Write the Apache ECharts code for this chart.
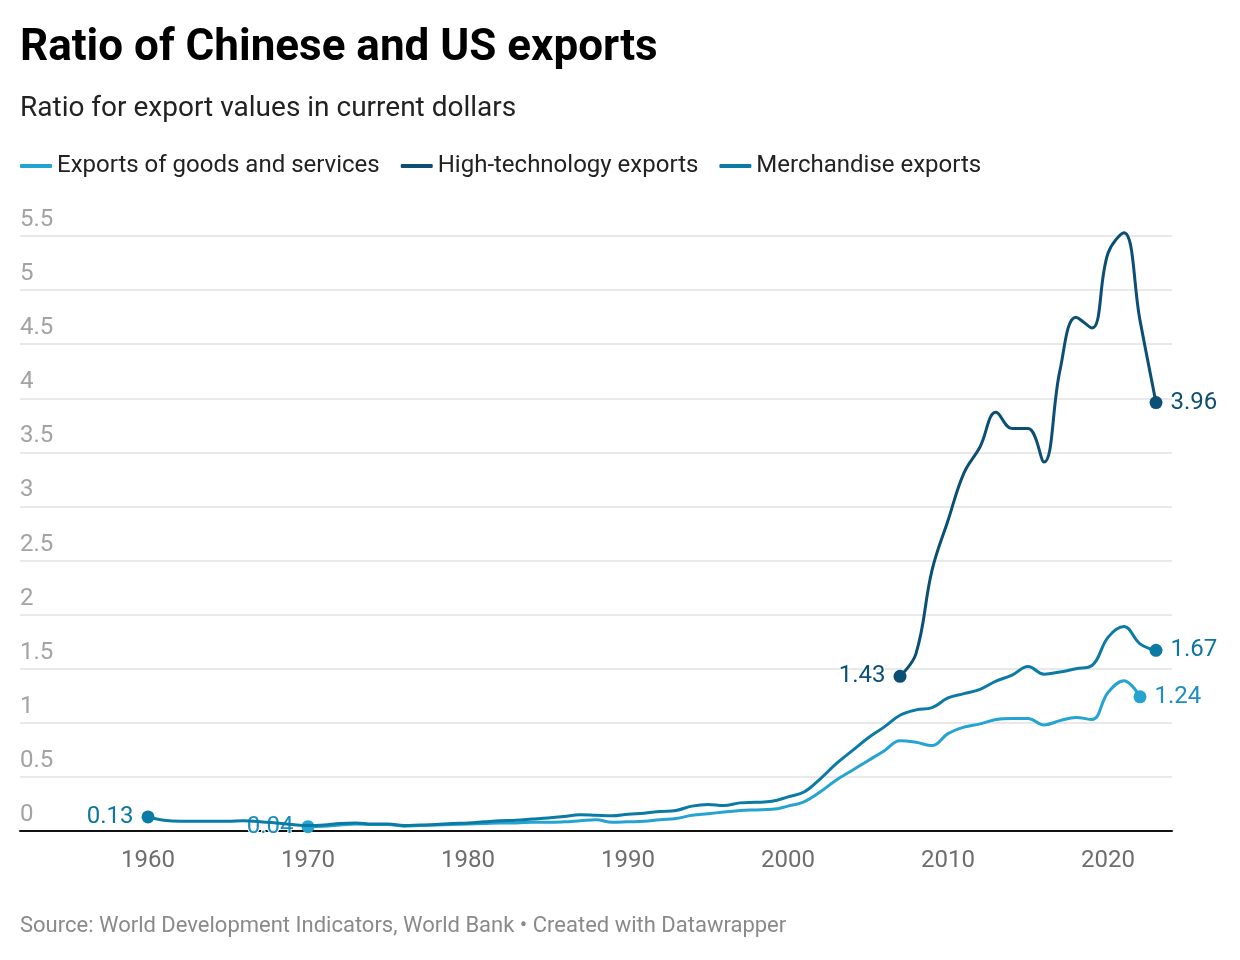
<!DOCTYPE html>
<html>
<head>
<meta charset="utf-8">
<title>Ratio of Chinese and US exports</title>
<script src="https://cdn.jsdelivr.net/npm/echarts@6/dist/echarts.min.js"></script>
<style>
  html, body { margin: 0; padding: 0; background: #fff; }
  #chart { width: 1240px; height: 960px; }
</style>
</head>
<body>
<div id="chart"></div>
<script>
// ratio China / US
const merchStart = 1960;
const merchandise = [
  0.13, 0.10, 0.09, 0.09, 0.09, 0.09, 0.095, 0.085, 0.075, 0.06,
  0.05, 0.055, 0.07, 0.075, 0.065, 0.065, 0.05, 0.055, 0.06, 0.07,
  0.075, 0.085, 0.095, 0.10, 0.11, 0.12, 0.135, 0.15, 0.145, 0.14,
  0.155, 0.165, 0.18, 0.19, 0.23, 0.245, 0.235, 0.26, 0.265, 0.275,
  0.315, 0.36, 0.48, 0.62, 0.74, 0.86, 0.96, 1.07, 1.12, 1.14,
  1.23, 1.27, 1.31, 1.385, 1.44, 1.52, 1.45, 1.47, 1.50, 1.53,
  1.79, 1.89, 1.73, 1.67
];

const goodsStart = 1970;
const goodsServices = [
  0.04, 0.045, 0.055, 0.065, 0.06, 0.06, 0.045, 0.05, 0.055, 0.06,
  0.065, 0.07, 0.075, 0.075, 0.08, 0.08, 0.085, 0.095, 0.105, 0.08,
  0.085, 0.09, 0.105, 0.115, 0.145, 0.16, 0.175, 0.19, 0.195, 0.20,
  0.23, 0.27, 0.36, 0.47, 0.56, 0.65, 0.74, 0.835, 0.82, 0.79,
  0.90, 0.96, 0.99, 1.03, 1.04, 1.04, 0.98, 1.02, 1.05, 1.03,
  1.28, 1.39, 1.24
];

const techStart = 2007;
const highTech = [
  1.43, 1.64, 2.41, 2.87, 3.31, 3.55, 3.87, 3.72, 3.72, 3.41,
  4.26, 4.75, 4.65, 5.34, 5.53, 4.72, 3.96
];

const xTicks = [1960, 1970, 1980, 1990, 2000, 2010, 2020];

const COLORS = {
  goods: '#25a3d1',
  merch: '#0b7aa4',
  tech: '#0b4f74'
};
const FONT = 'Roboto, "Noto Sans", sans-serif';

// first/last point gets a dot and a value label
function toPoints(start, values, color, labelColor) {
  return values.map((v, i) => {
    const isFirst = i === 0;
    const isLast = i === values.length - 1;
    if (!isFirst && !isLast) return [start + i, v];
    return {
      value: [start + i, v],
      symbol: 'circle',
      symbolSize: 13,
      itemStyle: { color },
      label: {
        show: true,
        position: isFirst ? 'left' : 'right',
        distance: 8,
        formatter: String(v),
        color: labelColor,
        fontSize: 24,
        fontFamily: FONT,
        textBorderColor: '#fff',
        textBorderWidth: 2
      }
    };
  });
}

const chart = echarts.init(document.getElementById('chart'), null, { renderer: 'canvas' });

function lineSeries(name, data, color, z) {
  return {
    name,
    type: 'line',
    data,
    z,
    smooth: 0.4,
    symbol: 'none',
    clip: false,
    lineStyle: { width: 3, color },
    itemStyle: { color },
    emphasis: { disabled: true }
  };
}

const option = {
  animation: false,
  backgroundColor: '#fff',
  textStyle: { fontFamily: FONT },
  title: [
    {
      text: 'Ratio of Chinese and US exports',
      left: 20,
      top: 27,
      padding: 0,
      textStyle: { fontSize: 44, fontWeight: 'bold', color: '#000', fontFamily: FONT }
    },
    {
      text: 'Ratio for export values in current dollars',
      left: 20,
      top: 95,
      padding: 0,
      textStyle: { fontSize: 28, fontWeight: 'normal', color: '#222', fontFamily: FONT }
    },
    {
      text: 'Source: World Development Indicators, World Bank • Created with Datawrapper',
      left: 20,
      top: 915,
      padding: 0,
      textStyle: { fontSize: 22, fontWeight: 'normal', color: '#8a8a8a', fontFamily: FONT }
    }
  ],
  legend: {
    left: 20,
    top: 154,
    padding: 0,
    itemWidth: 32,
    itemHeight: 4,
    itemGap: 21,
    icon: 'roundRect',
    textStyle: { fontSize: 24, color: '#222', fontFamily: FONT },
    data: ['Exports of goods and services', 'High-technology exports', 'Merchandise exports']
  },
  grid: { left: 20, right: 68, top: 236, bottom: 129, containLabel: false },
  xAxis: {
    type: 'value',
    min: 1952,
    max: 2024,
    axisLine: { show: true, onZero: false, lineStyle: { color: '#111', width: 2 } },
    axisTick: { show: false },
    splitLine: { show: false },
    axisLabel: {
      customValues: xTicks,
      formatter: v => String(v),
      color: '#6e6e6e',
      fontSize: 24,
      fontFamily: FONT,
      margin: 18
    }
  },
  yAxis: {
    type: 'value',
    min: 0,
    max: 5.5,
    interval: 0.5,
    axisLine: { show: false },
    axisTick: { show: false },
    splitLine: { lineStyle: { color: '#e2e2e2', width: 1.5 } },
    axisLabel: {
      inside: true,
      margin: 0,
      color: '#a3a3a3',
      fontSize: 24,
      fontFamily: FONT,
      verticalAlign: 'bottom',
      align: 'left',
      padding: [0, 0, 4, 0]
    }
  },
  series: [
    lineSeries('Exports of goods and services',
      toPoints(goodsStart, goodsServices, COLORS.goods, '#1a8fc0'),
      COLORS.goods, 2),
    lineSeries('Merchandise exports',
      toPoints(merchStart, merchandise, COLORS.merch, '#0b76a0'),
      COLORS.merch, 3),
    lineSeries('High-technology exports',
      toPoints(techStart, highTech, COLORS.tech, '#0b4f74'),
      COLORS.tech, 4)
  ]
};

chart.setOption(option);
</script>
</body>
</html>
